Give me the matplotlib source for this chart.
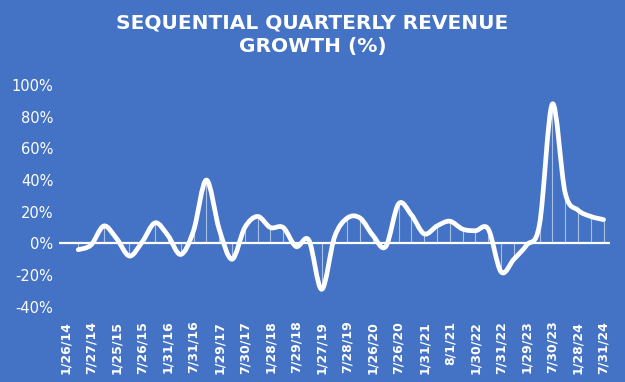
import matplotlib
matplotlib.use("Agg")
import matplotlib.pyplot as plt
import numpy as np
from matplotlib.path import Path
from matplotlib.patches import PathPatch

BG = "#4472C4"

# quarter end dates (every quarter); growth is blank for the first one
quarters = [
    "1/26/14", "4/27/14", "7/27/14", "10/26/14", "1/25/15", "4/26/15", "7/26/15",
    "10/25/15", "1/31/16", "5/1/16", "7/31/16", "10/30/16", "1/29/17", "4/30/17",
    "7/30/17", "10/29/17", "1/28/18", "4/29/18", "7/29/18", "10/28/18", "1/27/19",
    "4/28/19", "7/28/19", "10/27/19", "1/26/20", "4/26/20", "7/26/20", "10/25/20",
    "1/31/21", "5/2/21", "8/1/21", "10/31/21", "1/30/22", "5/1/22", "7/31/22",
    "10/30/22", "1/29/23", "4/30/23", "7/30/23", "10/29/23", "1/28/24", "4/28/24",
    "7/31/24",
]
growth_pct = [
    None, -4, -1, 11, 3, -8, 1, 13, 5, -7, 8, 40, 9, -10, 10, 17, 10, 10, -2, 2,
    -29, 4, 16, 16, 5, -2, 25, 18, 6, 11, 14, 9, 8, 9, -18, -10, -1, 12, 88, 32,
    21, 17, 15,
]


def smooth_path(xs, ys):
    # Excel-style smoothed line: Catmull-Rom segments as cubic Beziers
    pts = np.column_stack([xs, ys]).astype(float)
    verts = [pts[0]]
    codes = [Path.MOVETO]
    n = len(pts)
    for i in range(n - 1):
        p0 = pts[i - 1] if i > 0 else pts[i]
        p1 = pts[i]
        p2 = pts[i + 1]
        p3 = pts[i + 2] if i + 2 < n else pts[i + 1]
        c1 = p1 + (p2 - p0) / 6.0
        c2 = p2 - (p3 - p1) / 6.0
        verts += [c1, c2, p2]
        codes += [Path.CURVE4] * 3
    return Path(verts, codes)


fig = plt.figure(figsize=(6.25, 3.82), dpi=100, facecolor=BG)
ax = fig.add_axes([0.0944, 0.197, 0.8816, 0.5805], facecolor=BG)

x_idx = [i for i, v in enumerate(growth_pct) if v is not None]
y_val = [growth_pct[i] for i in x_idx]

ax.vlines(x_idx, 0, y_val, colors="white", linewidth=0.8, alpha=0.55, zorder=2)
ax.axhline(0, color="white", linewidth=1.6, zorder=1)
ax.add_patch(PathPatch(smooth_path(x_idx, y_val), facecolor="none",
                       edgecolor="white", linewidth=3.4, capstyle="round",
                       joinstyle="round", zorder=3))

ax.set_xlim(-0.5, len(quarters) - 0.5)
ax.set_ylim(-40, 100)
ax.set_yticks(range(-40, 101, 20))
ax.set_yticklabels([f"{v}%" for v in range(-40, 101, 20)])
ax.set_xticks(range(0, len(quarters), 2))
ax.set_xticklabels(quarters[::2], rotation=90, fontweight="bold", fontsize=9)
ax.tick_params(axis="both", length=0, colors="white")
ax.tick_params(axis="y", labelsize=10.5, pad=4)
ax.tick_params(axis="x", pad=10)
for side in ax.spines.values():
    side.set_visible(False)

fig.text(0.5, 0.91, "SEQUENTIAL QUARTERLY REVENUE\nGROWTH (%)", ha="center",
         va="center", color="white", fontsize=14.5, fontweight="bold",
         linespacing=1.3)

fig.savefig("out.png", dpi=100, facecolor=BG)
